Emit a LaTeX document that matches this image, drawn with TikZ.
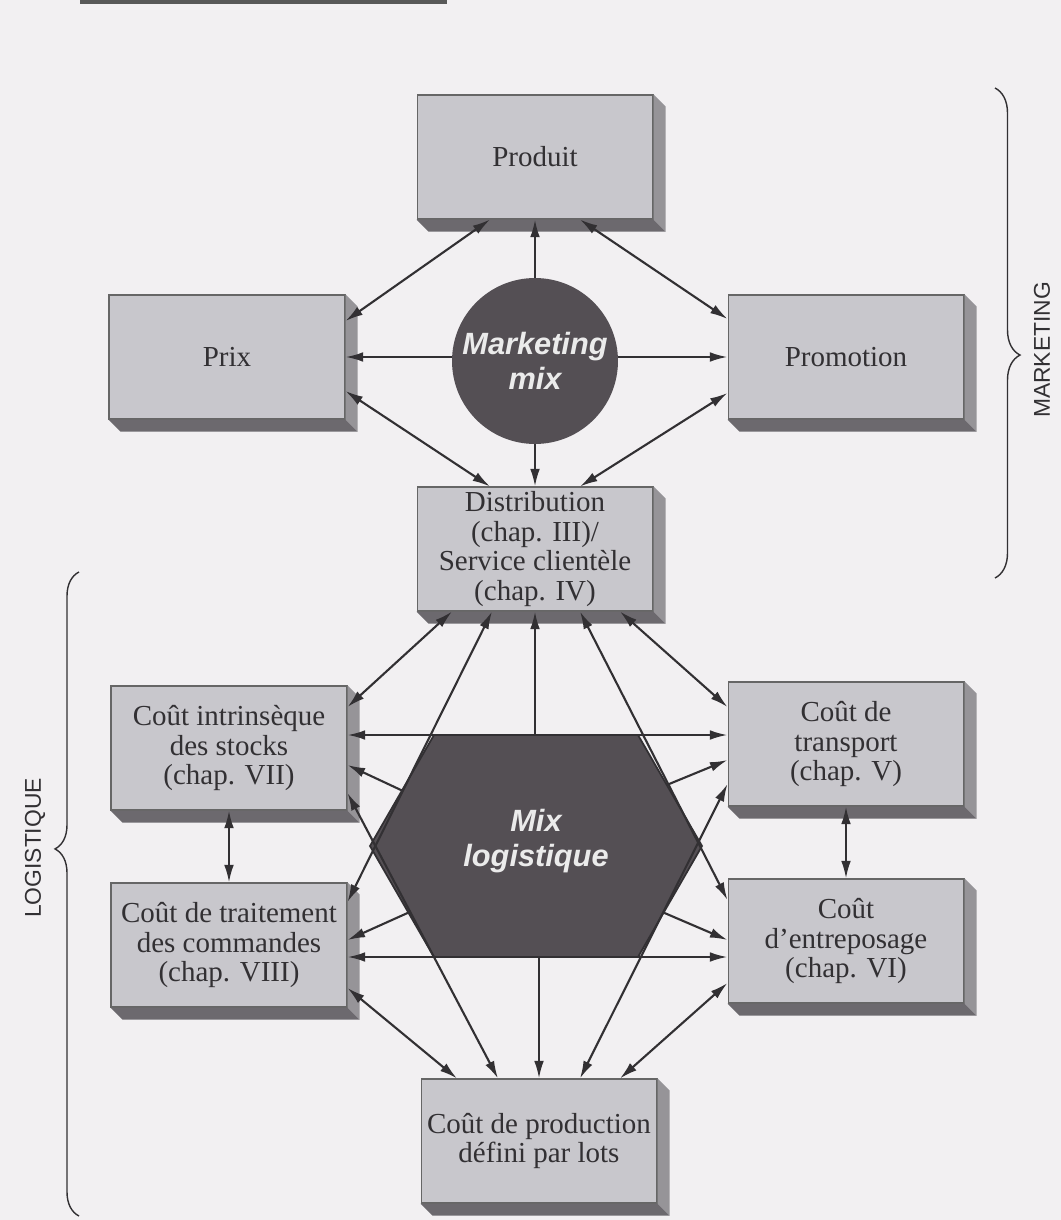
\documentclass[tikz,border=0pt]{standalone}
\usepackage{fontspec}
\setmainfont{Liberation Serif}
\setsansfont{Liberation Sans}
\usetikzlibrary{arrows.meta,calc,decorations.pathreplacing}

\definecolor{paper}{RGB}{242,240,242}
\definecolor{boxgray}{RGB}{200,199,204}
\definecolor{sideface}{RGB}{150,148,152}
\definecolor{bottomface}{RGB}{108,105,110}
\definecolor{mixfill}{RGB}{84,79,84}
\definecolor{ink}{RGB}{50,48,51}

% depth of the 3D boxes
\newcommand{\extrude}[1]{%
  \fill[sideface] (#1.north east) -- ++(12,12) -- ($(#1.south east)+(12,12)$) -- (#1.south east) -- cycle;
  \fill[bottomface] (#1.south west) -- ++(12,12) -- ($(#1.south east)+(12,12)$) -- (#1.south east) -- cycle;}

\begin{document}
\begin{tikzpicture}[x=0.02cm,y=-0.02cm,>={Latex[length=10pt,width=5.5pt]},
    box node/.style={rectangle,draw=black!60,line width=0.6pt,fill=boxgray,text=ink,
      minimum width=4.72cm,minimum height=2.48cm,inner sep=0pt,align=center,
      font=\fontsize{16.5}{17}\selectfont},
    mix node/.style={fill=mixfill,text=white!92!black,align=center,
      font=\sffamily\bfseries\itshape\fontsize{17.5}{20}\selectfont},
    link/.style={draw=ink,line width=1.2pt},
    side label/.style={rotate=90,text=ink,font=\sffamily\fontsize{13}{15}\selectfont}]

    \fill[paper] (0,0) rectangle (1061,1220);
    \useasboundingbox (0,0) rectangle (1061,1220);
    \fill[black!65] (80,0) rectangle (447,4);

    % hexagon
    \coordinate (hx-nw) at (434,735);
    \coordinate (hx-ne) at (638,735);
    \coordinate (hx-e)  at (702,846);
    \coordinate (hx-se) at (638,957);
    \coordinate (hx-sw) at (434,957);
    \coordinate (hx-w)  at (370,846);
    \filldraw[fill=mixfill,draw=ink,line width=1pt] (hx-nw) -- (hx-ne) -- (hx-e) -- (hx-se) -- (hx-sw) -- (hx-w) -- cycle;
    \node[mix node,fill=none] (mixlog) at (536,841) {Mix\\logistique};

    \node[mix node,circle,minimum size=3.32cm,inner sep=0pt] (mix) at (535,361) {Marketing\\mix};

    \node[box node] (produit) at (535,157) {Produit};
    \node[box node] (prix) at (227,357) {Prix};
    \node[box node] (promo) at (846,357) {Promotion};
    \node[box node] (distrib) at (535,549) {Distribution\\(chap. III)/\\Service clientèle\\(chap. IV)};
    \node[box node] (intrin) at (229,748) {Coût intrinsèque\\des stocks\\(chap. VII)};
    \node[box node] (transp) at (846,744) {Coût de\\transport\\(chap. V)};
    \node[box node] (traite) at (229,945) {Coût de traitement\\des commandes\\(chap. VIII)};
    \node[box node] (entrep) at (846,941) {Coût\\d'entreposage\\(chap. VI)};
    \node[box node] (prod) at (539,1141) {Coût de production\\défini par lots};

    \foreach \b in {produit,prix,promo,distrib,intrin,transp,traite,entrep,prod}
        {\extrude{\b}}

    % marketing mix
    \draw[link,->] (mix) -- (produit);
    \draw[link,->] (mix) -- (distrib);
    \draw[link,->] (mix.west |- prix) -- (prix);
    \draw[link,->] (mix.east |- promo) -- (promo);
    \draw[link,<->] ($(prix.east)+(0,-36)$) -- ($(produit.south)+(-45,0)$);
    \draw[link,<->] ($(produit.south)+(45,0)$) -- ($(promo.west)+(0,-38)$);
    \draw[link,<->] ($(prix.east)+(0,34)$) -- ($(distrib.north)+(-45,0)$);
    \draw[link,<->] ($(promo.west)+(0,36)$) -- ($(distrib.north)+(45,0)$);

    % mix logistique
    \draw[link,<->] ($(distrib.south)+(-83,0)$) -- ($(intrin.east)+(0,-41)$);
    \draw[link,<->] ($(distrib.south)+(-43,0)$) -- ($(traite.east)+(0,-43)$);
    \draw[link,<->] ($(distrib.south)+(45,0)$) -- ($(entrep.west)+(0,-41)$);
    \draw[link,<->] ($(distrib.south)+(85,0)$) -- ($(transp.west)+(0,-37)$);
    \draw[link,<->] ($(intrin.east)+(0,45)$) -- ($(prod.north)+(-41,0)$);
    \draw[link,<->] ($(transp.west)+(0,40)$) -- ($(prod.north)+(41,0)$);
    \draw[link,<->] ($(traite.east)+(0,43)$) -- ($(prod.north)+(-82,0)$);
    \draw[link,<->] ($(entrep.west)+(0,42)$) -- ($(prod.north)+(81,0)$);
    \draw[link,<->] (intrin) -- (traite);
    \draw[link,<->] (transp) -- (entrep);
    \draw[link,->] (distrib.south |- hx-nw) -- (distrib);
    \draw[link,->] (prod.north |- hx-sw) -- (prod);
    \draw[link,->] (hx-nw) -- (intrin.east |- hx-nw);
    \draw[link,->] (hx-ne) -- (transp.west |- hx-ne);
    \draw[link,->] (hx-sw) -- (traite.east |- hx-sw);
    \draw[link,->] (hx-se) -- (entrep.west |- hx-se);
    \draw[link,->] ($(hx-nw)!.5!(hx-w)$) -- ($(intrin.east)+(0,17)$);
    \draw[link,->] ($(hx-ne)!.45!(hx-e)$) -- ($(transp.west)+(0,16)$);
    \draw[link,->] ($(hx-w)!.6!(hx-sw)$) -- ($(traite.east)+(0,-5)$);
    \draw[link,->] ($(hx-e)!.6!(hx-se)$) -- ($(entrep.west)+(0,-1)$);

    % braces
    \coordinate (mk-top) at (995,88);
    \coordinate (mk-bot) at (995,578);
    \coordinate (lg-top) at (79,572);
    \coordinate (lg-bot) at (79,1216);
    \draw[ink,line width=0.8pt,decorate,decoration={brace,amplitude=0.5cm,aspect=0.545}] (mk-top) -- (mk-bot);
    \draw[ink,line width=0.8pt,decorate,decoration={brace,amplitude=0.48cm,aspect=0.57}] (lg-bot) -- (lg-top);
    \node[side label] (marketing) at (1042,350) {MARKETING};
    \node[side label] (logistique) at (35,848) {LOGISTIQUE};
\end{tikzpicture}
\end{document}
